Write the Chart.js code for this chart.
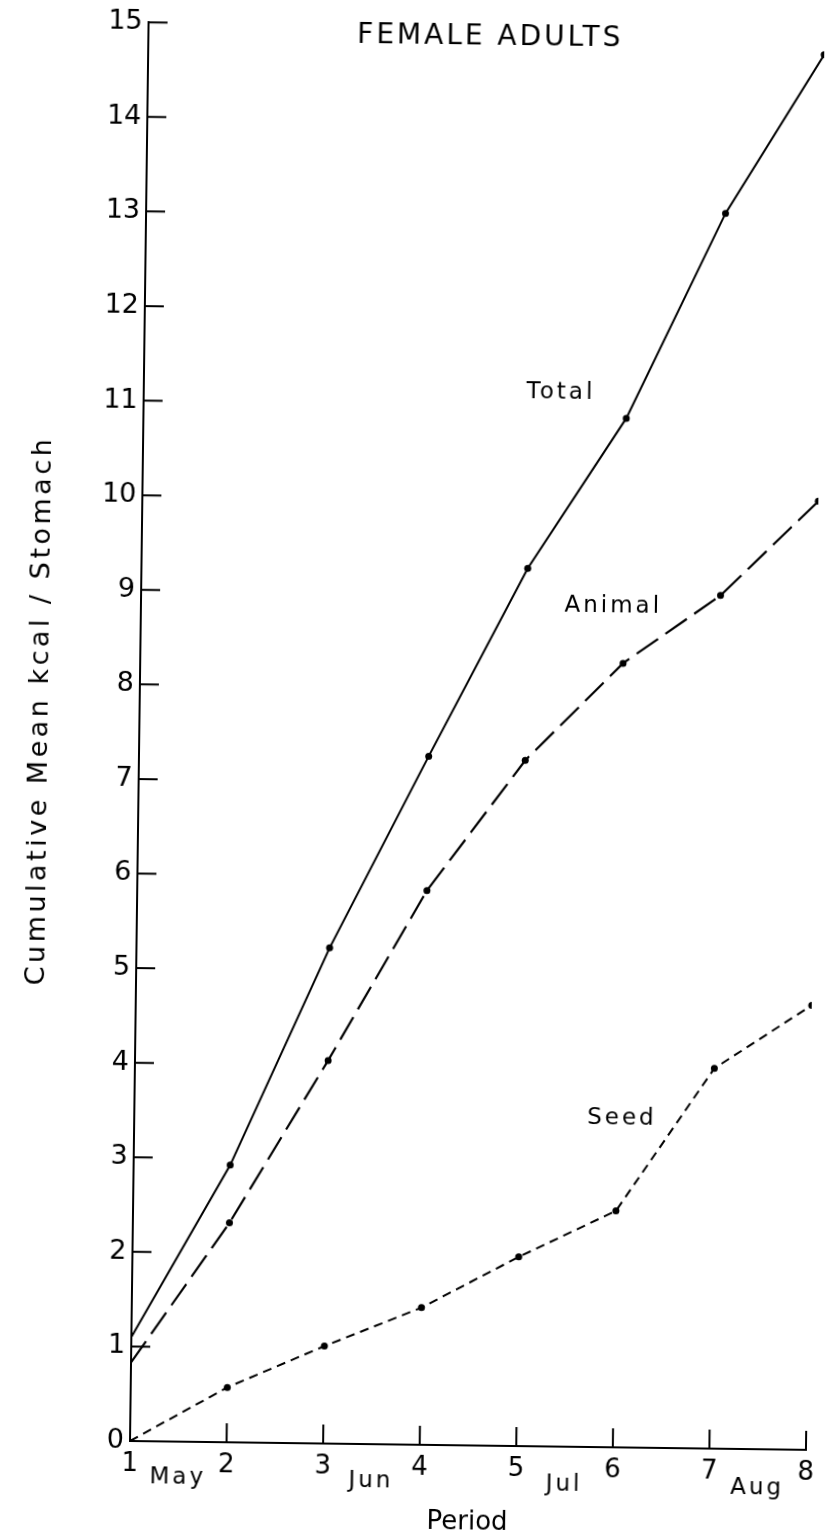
<!DOCTYPE html>
<html>
<head>
<meta charset="utf-8">
<script src="https://cdn.jsdelivr.net/npm/chart.js@4.4.1/dist/chart.umd.min.js"></script>
<style>
  html, body { margin: 0; padding: 0; background: #fff; overflow: hidden; }
  #sheet {
    position: absolute; left: 0; top: 0; width: 827px; height: 1537px;
    transform: rotate(0.75deg); transform-origin: 130px 1441px;
  }
  canvas { display: block; }
</style>
</head>
<body>
<div id="sheet"><canvas id="kcalChart" width="827" height="1537"></canvas></div>
<script>
// Sampling periods (two per month, May to August)
const periods = [1, 2, 3, 4, 5, 6, 7, 8];
const periodTicks = ['1', '2', '3', '4', '5', '6', '7', '8'];
const months = ['May', 'Jun', 'Jul', 'Aug'];

// Cumulative mean kcal per stomach, female adults
const totalKcal  = [1.10, 2.93, 5.24, 7.28, 9.28, 10.88, 13.06, 14.75];
const animalKcal = [0.83, 2.32, 4.05, 5.86, 7.25, 8.29, 9.02, 10.03];
const seedKcal   = [0.00, 0.58, 1.03, 1.45, 2.00, 2.50, 4.02, 4.70];

const seriesNames = ['Total', 'Animal', 'Seed'];
const chartTitle = 'FEMALE ADULTS';
const xTitle = 'Period';
const yTitle = 'Cumulative Mean kcal / Stomach';

const FONT = 'DejaVu Sans';
Chart.defaults.font.family = FONT;
Chart.defaults.color = '#000';

const pts = vals => vals.map((v, i) => ({ x: periods[i], y: v }));
const dotRadius = ctx => (ctx.dataIndex === 0 ? 0 : 3.5);

// Inward tick marks, series names, month names and titles drawn on the plot
const inkMarks = {
  id: 'inkMarks',
  afterDraw(chart, args, o) {
    const { ctx, chartArea: a, scales: { x, y } } = chart;
    ctx.save();
    ctx.strokeStyle = '#000';
    ctx.lineWidth = 2;
    ctx.beginPath();
    x.ticks.forEach(t => {
      const px = x.getPixelForValue(t.value);
      ctx.moveTo(px, a.bottom);
      ctx.lineTo(px, a.bottom - o.tickLen);
    });
    y.ticks.forEach(t => {
      const py = y.getPixelForValue(t.value);
      ctx.moveTo(a.left, py);
      ctx.lineTo(a.left + o.tickLen, py);
    });
    ctx.stroke();

    ctx.fillStyle = '#000';
    ctx.textAlign = 'center';
    ctx.textBaseline = 'middle';

    // title
    ctx.font = `28px "${FONT}"`;
    ctx.letterSpacing = '3px';
    ctx.fillText(chartTitle, x.getPixelForValue(o.title.x), y.getPixelForValue(o.title.y));

    // series names
    ctx.font = `23px "${FONT}"`;
    ctx.letterSpacing = '3px';
    o.names.forEach((n, i) => {
      ctx.fillText(seriesNames[i], x.getPixelForValue(n.x), y.getPixelForValue(n.y));
    });

    // month names under the period axis
    months.forEach((m, i) => {
      ctx.fillText(m, x.getPixelForValue(o.monthAt[i]), a.bottom + o.monthDrop[i]);
    });

    // y axis title
    ctx.font = `27px "${FONT}"`;
    ctx.letterSpacing = '3.5px';
    ctx.translate(o.yTitle.left, y.getPixelForValue(o.yTitle.y));
    ctx.rotate(-Math.PI / 2);
    ctx.fillText(yTitle, 0, 0);
    ctx.restore();
  }
};

new Chart(document.getElementById('kcalChart'), {
  type: 'line',
  data: {
    datasets: [
      {
        label: seriesNames[0], data: pts(totalKcal),
        borderColor: '#000', backgroundColor: '#000', borderWidth: 2,
        pointRadius: dotRadius, pointBorderWidth: 0, tension: 0
      },
      {
        label: seriesNames[1], data: pts(animalKcal),
        borderColor: '#000', backgroundColor: '#000', borderWidth: 2.2,
        borderDash: [26, 9],
        pointRadius: dotRadius, pointBorderWidth: 0, tension: 0
      },
      {
        label: seriesNames[2], data: pts(seedKcal),
        borderColor: '#000', backgroundColor: '#000', borderWidth: 2,
        borderDash: [9, 6],
        pointRadius: dotRadius, pointBorderWidth: 0, tension: 0
      }
    ]
  },
  options: {
    responsive: false,
    animation: false,
    devicePixelRatio: 1,
    layout: { padding: { left: 0, right: 21, top: 18, bottom: 0 } },
    plugins: {
      legend: { display: false },
      tooltip: { enabled: false },
      inkMarks: {
        tickLen: 19,
        title: { x: 4.54, y: 14.89 },
        names: [ { x: 5.32, y: 11.14 }, { x: 5.89, y: 8.89 }, { x: 6.05, y: 3.48 } ],
        monthAt: [1.5, 3.5, 5.5, 7.5],
        monthDrop: [36, 37, 38, 39],
        yTitle: { left: 31, y: 7.71 }
      }
    },
    scales: {
      x: {
        type: 'linear', min: 1, max: 8,
        afterFit: s => { s.height = 96; },
        border: { display: true, color: '#000', width: 2 },
        grid: { drawOnChartArea: false, drawTicks: false },
        ticks: {
          stepSize: 1, padding: 8, maxRotation: 0,
          font: { size: 26 }, color: '#000',
          callback: v => periodTicks[v - 1]
        },
        title: { display: true, text: xTitle, font: { size: 26 }, color: '#000', padding: { top: 0, bottom: 3 } }
      },
      y: {
        type: 'linear', min: 0, max: 15,
        afterFit: s => { s.width = 130; },
        border: { display: true, color: '#000', width: 2 },
        grid: { drawOnChartArea: false, drawTicks: false },
        ticks: { stepSize: 1, padding: 6, font: { size: 27 }, color: '#000' }
      }
    }
  },
  plugins: [inkMarks]
});
</script>
</body>
</html>
